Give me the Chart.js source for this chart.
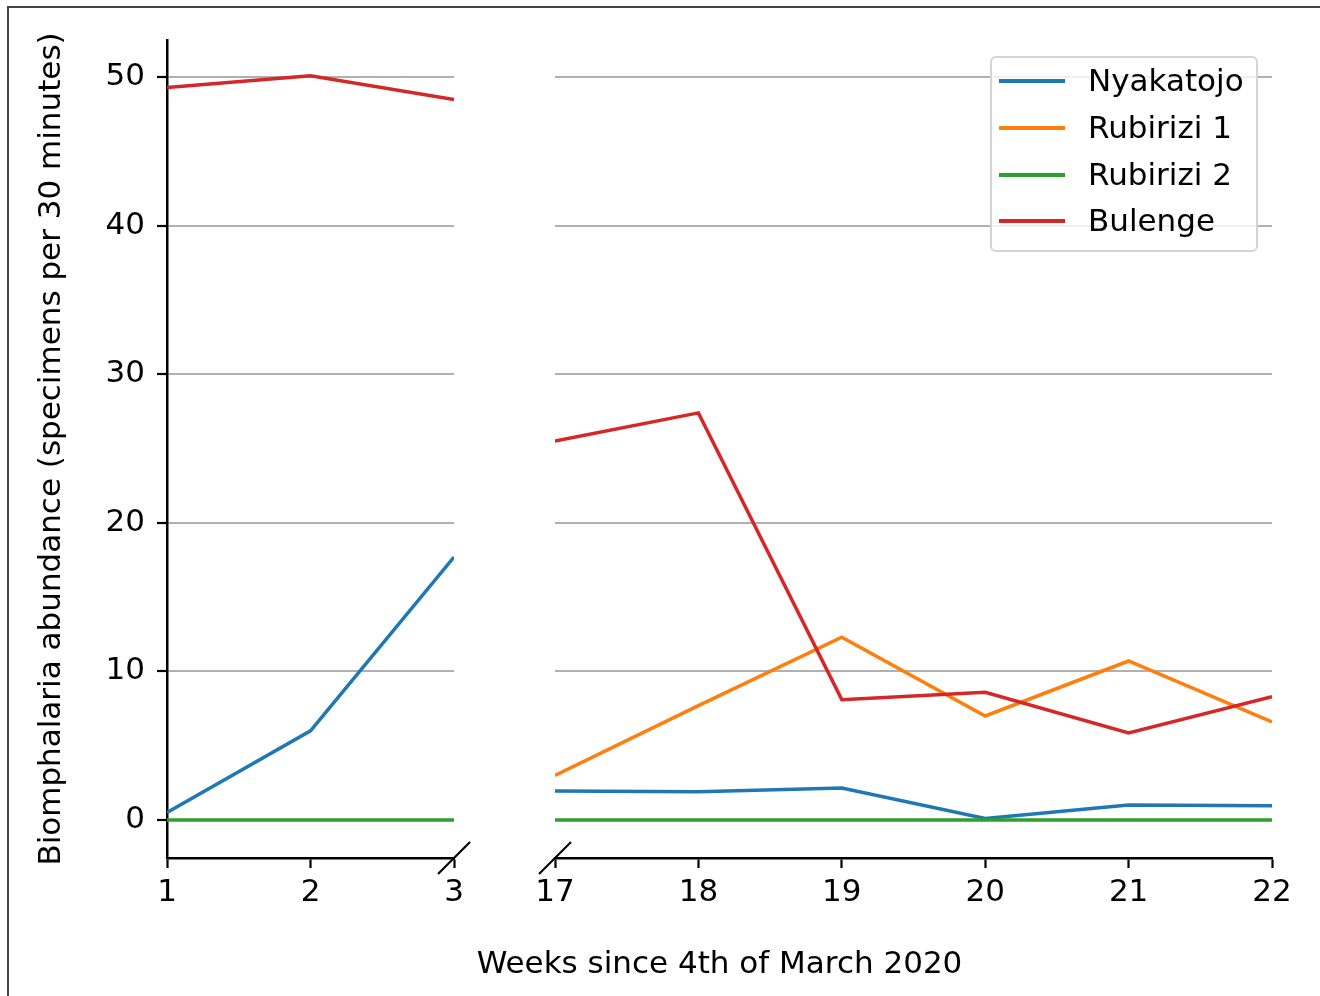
<!DOCTYPE html>
<html>
<head>
<meta charset="utf-8">
<script src="https://cdn.jsdelivr.net/npm/chart.js@4.4.1/dist/chart.umd.min.js"></script>
<style>
  body { margin: 0; background: #fff; }
  #wrap { position: relative; width: 1320px; height: 996px; overflow: hidden; background: #fff; font-family: 'DejaVu Sans'; }
  #frame { position: absolute; left: 7px; top: 6px; width: 1400px; height: 1100px; border: 2px solid #444; box-sizing: border-box; }
  canvas { position: absolute; left: 0; top: 0; }
  #xtitle { position: absolute; left: 167px; width: 1105px; top: 944px; text-align: center; font-size: 31px; line-height: 36px; color: #000; }
  #legend { position: absolute; left: 990px; top: 56px; width: 268px; height: 196px; box-sizing: border-box;
            border: 2px solid #d4d4d4; border-radius: 6px; background: rgba(255,255,255,0.8); }
  .row { position: absolute; left: 0; height: 0; }
  .row .sw { position: absolute; left: 7px; top: -1.75px; width: 66px; height: 3.5px; }
  .row .tx { position: absolute; left: 96px; top: -19px; font-size: 31px; line-height: 37px; white-space: nowrap; color: #000; }
</style>
</head>
<body>
<div id="wrap">
  <div id="frame"></div>
  <canvas id="chartInicio" width="1320" height="996"></canvas>
  <canvas id="chartFinal" width="1320" height="996"></canvas>
  <div id="legend"></div>
  <div id="xtitle">Weeks since 4th of March 2020</div>
</div>
<script>
// datos
const semanasInicio = [1, 2, 3];
const semanasFinal = [17, 18, 19, 20, 21, 22];
const sitios = ["Nyakatojo", "Rubirizi 1", "Rubirizi 2", "Bulenge"];
const colores = ["#1f77b4", "#ff7f0e", "#2ca02c", "#d62728"];

const nyakatojoInicio = [0.5, 6.0, 17.7];
const rubirizi1Inicio = [null, null, null];
const rubirizi2Inicio = [0, 0, 0];
const bulengeInicio = [49.3, 50.1, 48.5];

const nyakatojoFinal = [1.95, 1.9, 2.15, 0.1, 1.0, 0.95];
const rubirizi1Final = [3.0, 7.7, 12.3, 7.0, 10.7, 6.6];
const rubirizi2Final = [0, 0, 0, 0, 0, 0];
const bulengeFinal = [25.5, 27.4, 8.1, 8.6, 5.85, 8.3];

const yTicks = [0, 10, 20, 30, 40, 50];
const yMin = -2.56;
const yMax = 52.5;

Chart.defaults.font.family = "DejaVu Sans";
Chart.defaults.color = "#000";

const serie = (semanas, valores, i) => ({
  label: sitios[i],
  data: semanas.map((s, j) => ({ x: s, y: valores[j] })),
  borderColor: colores[i],
  backgroundColor: colores[i],
  borderWidth: 3.5,
  pointRadius: 0,
  tension: 0,
  order: 4 - i,
});

const marcaCorte = (lado) => ({
  id: "corte" + lado,
  afterDraw(chart) {
    const { ctx, chartArea } = chart;
    const x = lado === "der" ? chartArea.right : chartArea.left;
    const y = chartArea.bottom;
    ctx.save();
    ctx.strokeStyle = "#000";
    ctx.lineWidth = 2.2;
    ctx.beginPath();
    ctx.moveTo(x - 16, y + 16);
    ctx.lineTo(x + 16, y - 16);
    ctx.stroke();
    ctx.restore();
  },
});

const ejeX = (min, max, ticks) => ({
  type: "linear",
  min: min,
  max: max,
  afterBuildTicks: (axis) => { axis.ticks = ticks.map((v) => ({ value: v })); },
  afterFit: (axis) => { axis.height = 138; },
  grid: { drawOnChartArea: false, drawTicks: true, tickLength: 10, tickColor: "#000", tickWidth: 2.2 },
  border: { display: true, color: "#000", width: 2.5 },
  ticks: { font: { size: 31 }, padding: 6, maxRotation: 0, autoSkip: false },
});

const chartInicio = new Chart(document.getElementById("chartInicio").getContext("2d"), {
  type: "line",
  data: {
    datasets: [
      serie(semanasInicio, nyakatojoInicio, 0),
      serie(semanasInicio, rubirizi1Inicio, 1),
      serie(semanasInicio, rubirizi2Inicio, 2),
      serie(semanasInicio, bulengeInicio, 3),
    ],
  },
  options: {
    responsive: false,
    animation: false,
    layout: { padding: { left: 0, top: 40, right: 866, bottom: 0 } },
    plugins: { legend: { display: false }, tooltip: { enabled: false } },
    scales: {
      x: ejeX(1, 3, semanasInicio),
      y: {
        min: yMin,
        max: yMax,
        afterBuildTicks: (axis) => { axis.ticks = yTicks.map((v) => ({ value: v })); },
        afterFit: (axis) => { axis.width = 167; },
        grid: { color: "#b0b0b0", lineWidth: 2, drawTicks: true, tickLength: 10, tickColor: "#000", tickWidth: 2.2 },
        border: { display: true, color: "#000", width: 2.5 },
        ticks: { font: { size: 31 }, padding: 12 },
        title: {
          display: true,
          text: "Biomphalaria abundance (specimens per 30 minutes)",
          font: { size: 31 },
          padding: { top: 33, bottom: 0 },
        },
      },
    },
  },
  plugins: [marcaCorte("der")],
});

const chartFinal = new Chart(document.getElementById("chartFinal").getContext("2d"), {
  type: "line",
  data: {
    datasets: [
      serie(semanasFinal, nyakatojoFinal, 0),
      serie(semanasFinal, rubirizi1Final, 1),
      serie(semanasFinal, rubirizi2Final, 2),
      serie(semanasFinal, bulengeFinal, 3),
    ],
  },
  options: {
    responsive: false,
    animation: false,
    layout: { padding: { left: 555, top: 40, right: 48, bottom: 0 } },
    plugins: { legend: { display: false }, tooltip: { enabled: false } },
    scales: {
      x: ejeX(17, 22, semanasFinal),
      y: {
        min: yMin,
        max: yMax,
        afterBuildTicks: (axis) => { axis.ticks = yTicks.map((v) => ({ value: v })); },
        afterFit: (axis) => { axis.width = 0; },
        grid: { color: "#b0b0b0", lineWidth: 2, drawTicks: false },
        border: { display: false },
        ticks: { display: false },
      },
    },
  },
  plugins: [marcaCorte("izq")],
});

// leyenda
const leyenda = document.getElementById("legend");
const filasY = [23, 70, 117, 163];
sitios.forEach((nombre, i) => {
  const fila = document.createElement("div");
  fila.className = "row";
  fila.style.top = filasY[i] + "px";
  fila.innerHTML = `<div class="sw" style="background:${colores[i]}"></div><div class="tx">${nombre}</div>`;
  leyenda.appendChild(fila);
});
</script>
</body>
</html>
